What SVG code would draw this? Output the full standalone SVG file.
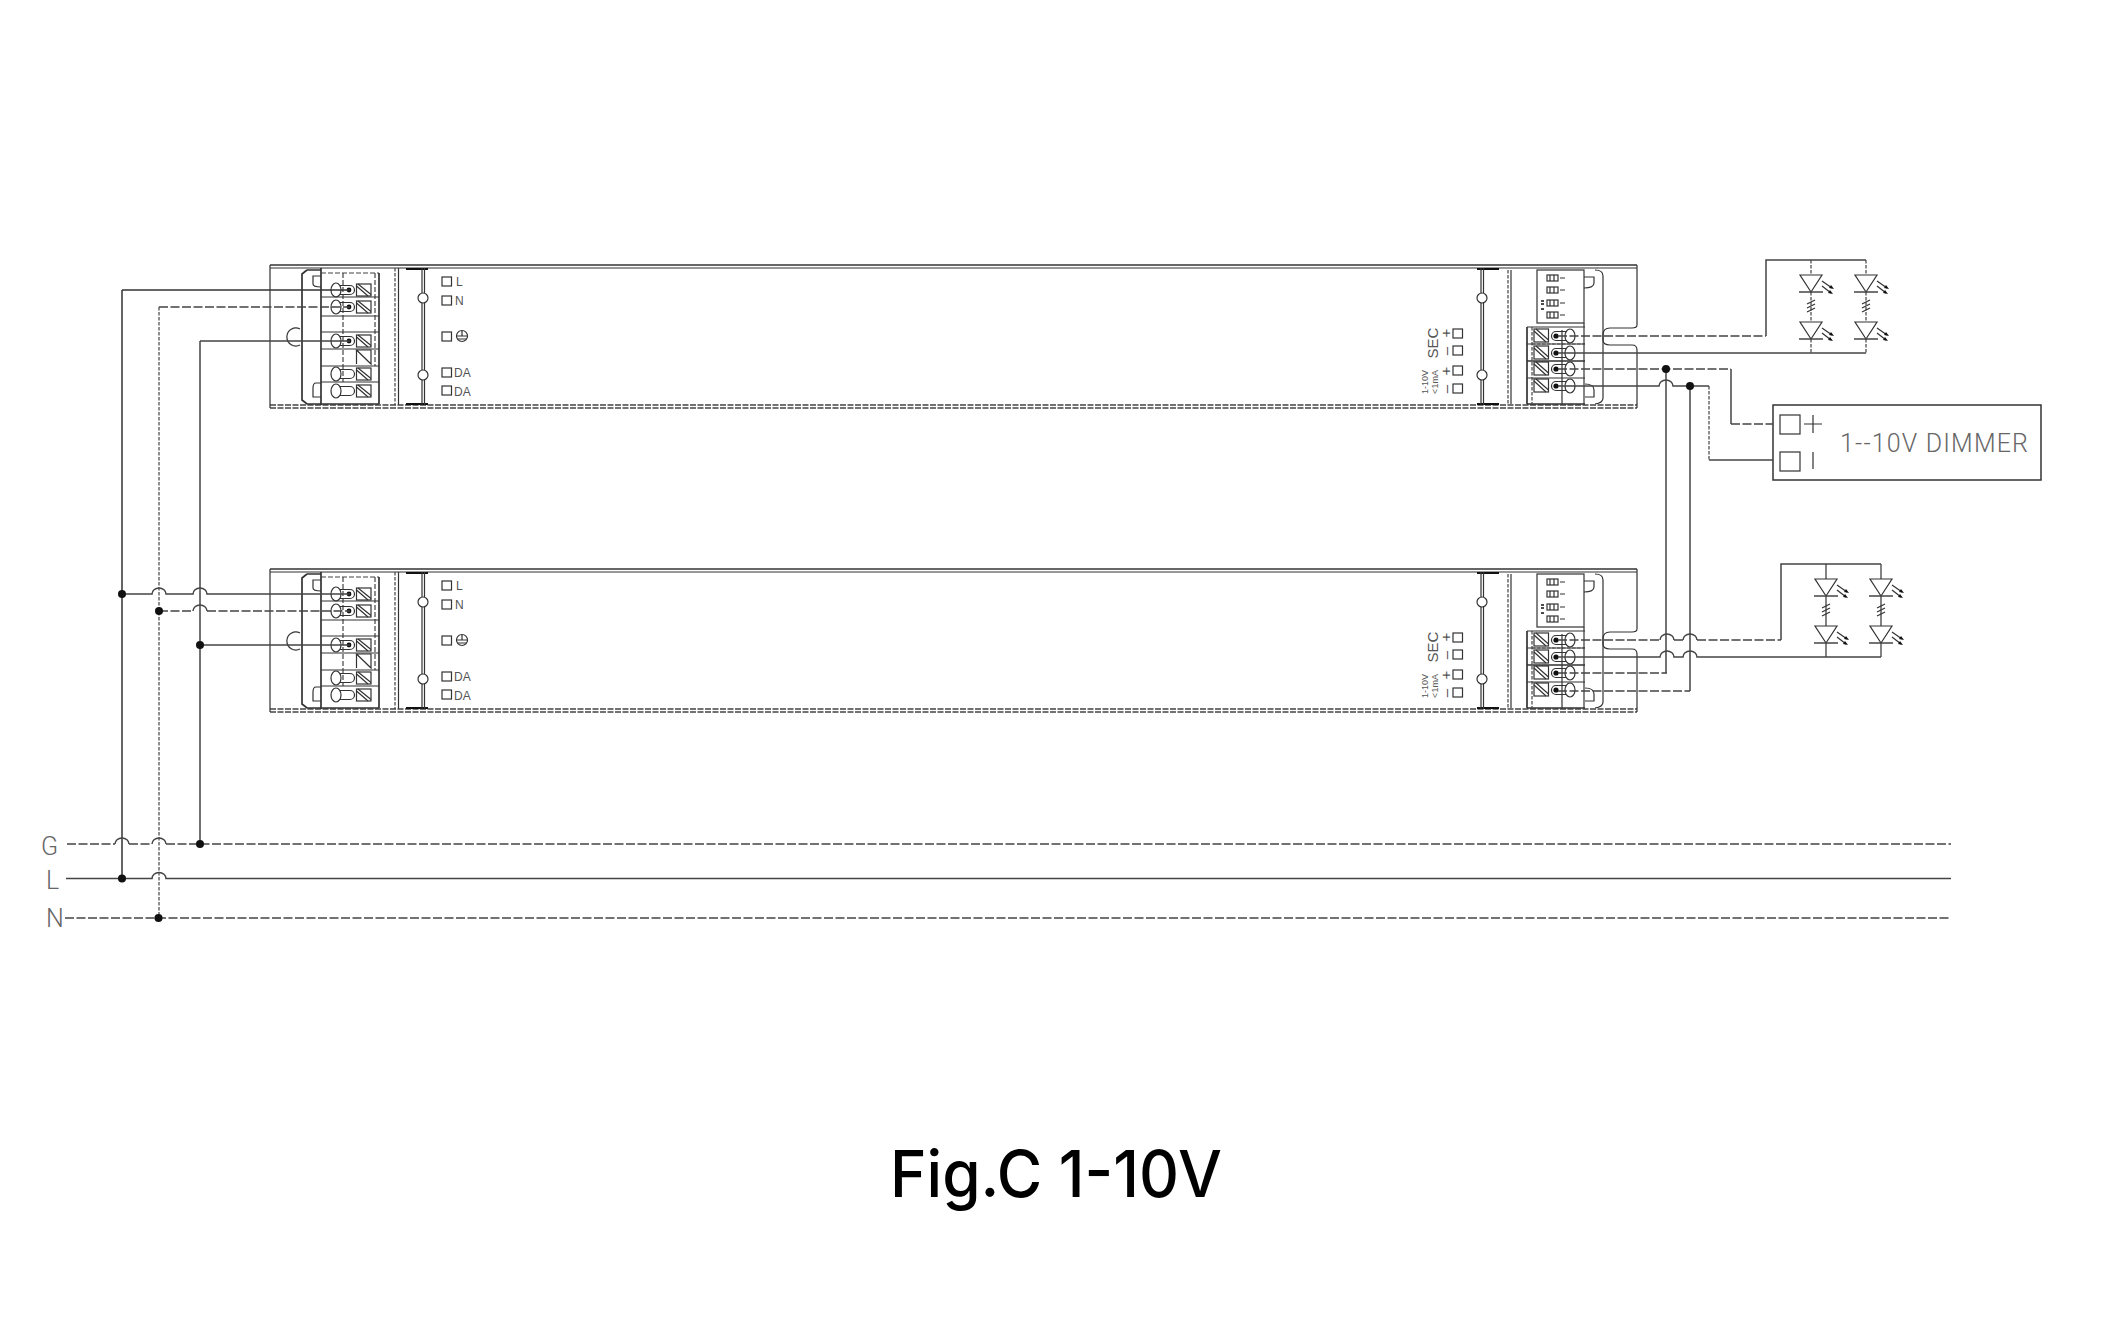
<svg xmlns="http://www.w3.org/2000/svg" xmlns:xlink="http://www.w3.org/1999/xlink" width="2111" height="1329" viewBox="0 0 2111 1329">
<style>
.s{fill:none;stroke:#333;stroke-width:1.2}
.w{fill:none;stroke:#444;stroke-width:1.5}
.d{fill:none;stroke:#444;stroke-width:1.5;stroke-dasharray:9 2.5}
.f{fill:none;stroke:#444;stroke-width:1.2;stroke-dasharray:3.5 1.5}
.t{fill:none;stroke:#333;stroke-width:1.7}
.th{fill:none;stroke:#111;stroke-width:2}
.j{fill:#111}
.lb{font-family:"Liberation Sans",Arial,sans-serif;fill:#555}
.th2{font-family:"Roboto","Liberation Sans",sans-serif;font-weight:300;fill:#666}
</style>
<rect width="2111" height="1329" fill="#fff"/>
<defs>
<g id="termL">
<ellipse cx="336" cy="0" rx="5" ry="7" class="s"/>
<path class="s" d="M340-4.500H350a4.500 4.500 0 0 1 0 9H340"/>
<circle cx="349" cy="0" r="2.400" class="j"/>
<rect x="356.500" y="-6" width="14.500" height="12" class="s"/>
<path class="s" d="M358-6 371 4.500M356.500-4 368 6"/>
</g>
<g id="termLO">
<ellipse cx="336" cy="0" rx="5" ry="7" class="s"/>
<path class="s" d="M340-4.500H350a4.500 4.500 0 0 1 0 9H340"/>
<rect x="356.500" y="-6" width="14.500" height="12" class="s"/>
<path class="s" d="M358-6 371 4.500M356.500-4 368 6"/>
</g>
<g id="termR">
<ellipse cx="1570" cy="0" rx="5" ry="7" class="s"/>
<path class="s" d="M1566-4.500H1556a4.500 4.500 0 0 0 0 9H1566"/>
<circle cx="1556" cy="0" r="2.600" class="j"/>
<rect x="1534" y="-7" width="14.500" height="13" class="s"/>
<path class="s" d="M1536-7 1548.500 4M1534-5 1546 6"/>
</g>
<g id="dip">
<rect x="1547" y="-3" width="11" height="6" class="s"/>
<path class="s" d="M1550-3V3M1554-3V3M1560 0H1565"/>
</g>
<g id="sq"><rect x="0" y="0" width="9.500" height="9" class="s"/></g>
<g id="led">
<path class="s" d="M-11-17H11L0 0Z"/>
<path class="w" d="M-12 0H12"/>
<path class="s" d="M11-11 21-4M11-6 20 1"/>
<path class="j" d="M23-3 18-4 20-7ZM22 2 17 1 19-2Z"/>
</g>
<g id="ledcol">
<use xlink:href="#led" href="#led" transform="translate(0 292)"/>
<use xlink:href="#led" href="#led" transform="translate(0 339)"/>
<path class="s" d="M-4 304 4 300M-4 308 4 304M-4 312 4 308"/>
</g>
<g id="body">
<path class="t" d="M270 265H1637"/>
<path class="s" d="M270 268H1637"/>
<path class="f" d="M270 405H1637M270 408H1637" style="stroke-dasharray:6 1.500;stroke-width:1.500"/>
<path class="s" d="M270 265V408M1637 265V325Q1637 328 1632 328H1610Q1603 328 1603 335V340Q1603 345 1610 345H1632Q1637 345 1637 350V408"/>
<path class="th" d="M406 269H428M406 404H428M1477 269H1499M1477 404H1499"/>
<path class="t" d="M307 270 302 274V400L307 404H321"/>
<path class="t" d="M307 270H321M321 268V405"/>
<path class="f" d="M321 273H379M343 273V382M375 273V366" style="stroke-dasharray:5 2"/>
<path class="s" d="M321 297H379M321 316H379M321 332H379M321 349H379M321 366H379M321 382H379"/>
<path class="t" d="M379 273V404M321 404H379"/>
<path class="f" d="M395 268V405"/>
<path class="s" d="M398.500 268V405"/>
<path class="s" d="M422 268V405M424.500 268V405"/>
<circle cx="423" cy="298" r="5" class="s" style="fill:#fff"/>
<circle cx="423" cy="375" r="5" class="s" style="fill:#fff"/>
<path class="s" d="M300 329A9 9 0 1 0 300 345"/>
<path class="s" d="M321 276H313V284Q313 287 321 287M321 383H316Q313 383 313 388V397H321"/>
<use xlink:href="#termL" href="#termL" transform="translate(0 290)"/>
<use xlink:href="#termL" href="#termL" transform="translate(0 307)"/>
<use xlink:href="#termL" href="#termL" transform="translate(0 341)"/>
<path class="s" d="M356.500 350H371V364ZM356.500 350V364"/>
<use xlink:href="#termLO" href="#termLO" transform="translate(0 374)"/>
<use xlink:href="#termLO" href="#termLO" transform="translate(0 391)"/>
<use xlink:href="#sq" href="#sq" transform="translate(442 277)"/>
<use xlink:href="#sq" href="#sq" transform="translate(442 296)"/>
<use xlink:href="#sq" href="#sq" transform="translate(442 332)"/>
<use xlink:href="#sq" href="#sq" transform="translate(442 368)"/>
<use xlink:href="#sq" href="#sq" transform="translate(442 386)"/>
<circle cx="462" cy="336" r="5.500" class="s"/>
<path class="s" d="M462 331V336M456.500 336H467.500M457.500 339H466.500"/>
<path class="s" d="M1481 268V405M1483.500 268V405"/>
<circle cx="1482" cy="298" r="5" class="s" style="fill:#fff"/>
<circle cx="1482" cy="375" r="5" class="s" style="fill:#fff"/>
<path class="f" d="M1508 270V404"/>
<path class="s" d="M1511 270V404"/>
<rect x="1537" y="270" width="47" height="53" class="s"/>
<use xlink:href="#dip" href="#dip" transform="translate(0 278)"/>
<use xlink:href="#dip" href="#dip" transform="translate(0 290)"/>
<use xlink:href="#dip" href="#dip" transform="translate(0 303)"/>
<use xlink:href="#dip" href="#dip" transform="translate(0 315)"/>
<path class="th" d="M1541 301H1544M1541 304H1544M1541 309H1544" style="stroke-width:1.500"/>
<path class="s" d="M1584 323V404"/>
<path class="s" d="M1595 270Q1603 270 1603 276V398Q1603 403 1595 404"/>
<path class="s" d="M1584 277H1594V283Q1594 288 1584 288M1585 384Q1594 384 1594 390V397H1585"/>
<path class="s" d="M1527 327H1585M1527 344H1585M1527 378H1585"/>
<path class="t" d="M1527 361H1585M1527 404H1585"/>
<path class="t" d="M1527 327V404"/>
<path class="f" d="M1532 327V404M1532 344H1585"/>
<path class="s" d="M1562 330V404"/>
<use xlink:href="#termR" href="#termR" transform="translate(0 336)"/>
<use xlink:href="#termR" href="#termR" transform="translate(0 353)"/>
<use xlink:href="#termR" href="#termR" transform="translate(0 369)"/>
<use xlink:href="#termR" href="#termR" transform="translate(0 386)"/>
<use xlink:href="#sq" href="#sq" transform="translate(1453 329)"/>
<use xlink:href="#sq" href="#sq" transform="translate(1453 346)"/>
<use xlink:href="#sq" href="#sq" transform="translate(1453 366)"/>
<use xlink:href="#sq" href="#sq" transform="translate(1453 384)"/>
</g>
</defs>

<g id="driver-1">
<use xlink:href="#body" href="#body"/>
<text class="lb" x="456" y="286" font-size="12">L</text>
<text class="lb" x="455" y="305" font-size="12">N</text>
<text class="lb" x="454" y="377" font-size="12">DA</text>
<text class="lb" x="454" y="396" font-size="12">DA</text>
<text class="lb" font-size="15" transform="translate(1438 343) rotate(-90)" text-anchor="middle">SEC</text>
<text class="lb" font-size="15" transform="translate(1451 333) rotate(-90)" text-anchor="middle">+</text>
<text class="lb" font-size="15" transform="translate(1451 351) rotate(-90)" text-anchor="middle">–</text>
<text class="lb" font-size="15" transform="translate(1451 371) rotate(-90)" text-anchor="middle">+</text>
<text class="lb" font-size="15" transform="translate(1451 389) rotate(-90)" text-anchor="middle">–</text>
<text class="lb" font-size="9" transform="translate(1428 382) rotate(-90)" text-anchor="middle">1-10V</text>
<text class="lb" font-size="9" transform="translate(1438 382) rotate(-90)" text-anchor="middle">&lt;1mA</text>
</g>

<g id="driver-2">
<use xlink:href="#body" href="#body" transform="translate(0 304)"/>
<g transform="translate(0 304)">
<text class="lb" x="456" y="286" font-size="12">L</text>
<text class="lb" x="455" y="305" font-size="12">N</text>
<text class="lb" x="454" y="377" font-size="12">DA</text>
<text class="lb" x="454" y="396" font-size="12">DA</text>
<text class="lb" font-size="15" transform="translate(1438 343) rotate(-90)" text-anchor="middle">SEC</text>
<text class="lb" font-size="15" transform="translate(1451 333) rotate(-90)" text-anchor="middle">+</text>
<text class="lb" font-size="15" transform="translate(1451 351) rotate(-90)" text-anchor="middle">–</text>
<text class="lb" font-size="15" transform="translate(1451 371) rotate(-90)" text-anchor="middle">+</text>
<text class="lb" font-size="15" transform="translate(1451 389) rotate(-90)" text-anchor="middle">–</text>
<text class="lb" font-size="9" transform="translate(1428 382) rotate(-90)" text-anchor="middle">1-10V</text>
<text class="lb" font-size="9" transform="translate(1438 382) rotate(-90)" text-anchor="middle">&lt;1mA</text>
</g>
</g>

<g id="led-array-1">
<path class="f" d="M1811 260V275M1811 292V322M1811 339V353M1866 260V275M1866 292V322M1866 339V353"/>
<use xlink:href="#ledcol" href="#ledcol" transform="translate(1811 0)"/>
<use xlink:href="#ledcol" href="#ledcol" transform="translate(1866 0)"/>
</g>
<g id="led-array-2">
<path class="s" d="M1826 564V579M1826 596V626M1826 643V657M1881 564V579M1881 596V626M1881 643V657"/>
<use xlink:href="#ledcol" href="#ledcol" transform="translate(1826 304)"/>
<use xlink:href="#ledcol" href="#ledcol" transform="translate(1881 304)"/>
</g>

<g id="dimmer">
<rect x="1773" y="405" width="268" height="75" class="s" style="stroke-width:1.500"/>
<rect x="1780" y="415" width="20" height="19" class="s"/>
<rect x="1780" y="452" width="20" height="19" class="s"/>
<path class="s" d="M1804 424H1822M1813 415V433M1813 452V469"/>
<text class="th2" x="1840" y="452" font-size="25" textLength="188" lengthAdjust="spacing">1--10V DIMMER</text>
</g>

<g id="connectors">
<path class="t" d="M122 290H350M122 290V878" style="stroke-width:1.500"/>
<path class="f" d="M159 307V918"/>
<path class="d" d="M159 307H350"/>
<path class="w" d="M200 341H350M200 341V844"/>
<path class="w" d="M122 594H152A7 6 0 0 1 166 594H193A7 6 0 0 1 207 594H350"/>
<path class="d" d="M159 611H193M207 611H350"/>
<path class="w" d="M193 611A7 6 0 0 1 207 611"/>
<path class="w" d="M200 645H350"/>
<path class="d" d="M67 844H115M129 844H152M166 844H1951"/>
<path class="w" d="M115 844A7 6 0 0 1 129 844M152 844A7 6 0 0 1 166 844"/>
<path class="w" d="M66 878.500H152A7 6 0 0 1 166 878.500H1951"/>
<path class="d" d="M65 918H1951"/>
<path class="d" d="M1558 336H1766"/>
<path class="w" d="M1766 336V260H1866"/>
<path class="w" d="M1558 353H1866"/>
<path class="d" d="M1558 369H1731"/>
<path class="w" d="M1731 369V424"/>
<path class="d" d="M1731 424H1773"/>
<path class="w" d="M1558 386H1659A7 6 0 0 1 1673 386H1709"/>
<path class="f" d="M1709 386V460"/>
<path class="w" d="M1709 460H1773"/>
<path class="w" d="M1666 369V673M1690 386V691"/>
<path class="d" d="M1558 640H1660M1674 640H1683M1697 640H1781"/>
<path class="w" d="M1660 640A7 6 0 0 1 1674 640M1683 640A7 6 0 0 1 1697 640"/>
<path class="w" d="M1781 640V564H1881"/>
<path class="w" d="M1558 657H1660A7 6 0 0 1 1674 657H1683A7 6 0 0 1 1697 657H1881"/>
<path class="d" d="M1558 673H1667M1558 691H1690"/>
<circle cx="122" cy="594" r="4" class="j"/>
<circle cx="159" cy="611" r="4" class="j"/>
<circle cx="200" cy="645" r="4" class="j"/>
<circle cx="200" cy="844" r="4" class="j"/>
<circle cx="122" cy="878.500" r="4" class="j"/>
<circle cx="158.500" cy="918" r="4" class="j"/>
<circle cx="1666" cy="369" r="4" class="j"/>
<circle cx="1690" cy="386" r="4" class="j"/>
</g>

<g id="labels">
<text class="th2" x="41" y="855" font-size="25">G</text>
<text class="th2" x="46" y="889" font-size="25">L</text>
<text class="th2" x="46" y="927" font-size="25">N</text>
<text x="890" y="1197" font-family="Inter,'Liberation Sans',sans-serif" font-weight="500" font-size="65" fill="#000" textLength="332" lengthAdjust="spacingAndGlyphs">Fig.C 1-10V</text>
</g>
</svg>
